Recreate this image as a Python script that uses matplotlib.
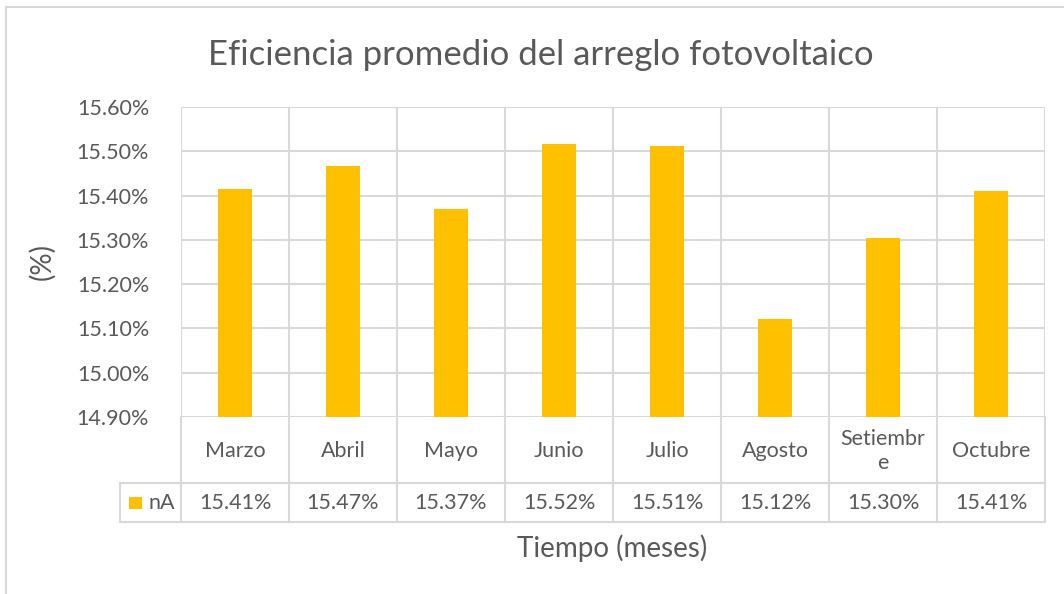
import matplotlib.pyplot as plt
from matplotlib.transforms import blended_transform_factory
from matplotlib.patches import Rectangle

plt.rcParams['font.family'] = ['Lato', 'DejaVu Sans']

# datos
meses = ["Marzo", "Abril", "Mayo", "Junio", "Julio", "Agosto", "Setiembre", "Octubre"]
etiquetas = ["Marzo", "Abril", "Mayo", "Junio", "Julio", "Agosto", "Setiembr\ne", "Octubre"]
eficiencia = [15.414, 15.466, 15.369, 15.516, 15.511, 15.122, 15.304, 15.410]
serie = "nA"
yticks = [14.9, 15.0, 15.1, 15.2, 15.3, 15.4, 15.5, 15.6]

gris = '#595959'
rejilla = '#d9d9d9'
amarillo = '#ffc000'
fs = 15.5

W, H = 1064, 594
fig = plt.figure(figsize=(W / 100, H / 100), dpi=100)

def fy(py):
    return 1 - py / H

ax = fig.add_axes([181 / W, fy(417), (1045 - 181) / W, (417 - 107) / H])
x = list(range(len(meses)))
ax.bar(x, eficiencia, width=0.31, color=amarillo, zorder=3, bottom=0)
ax.set_xlim(-0.5, len(meses) - 0.5)
ax.set_ylim(14.9, 15.6)
ax.set_yticks(yticks)
ax.set_yticklabels([f"{v:.2f}%" for v in yticks], color=gris, fontsize=fs)
ax.tick_params(axis='y', length=0, pad=23)
ax.set_xticks([])
for s in ax.spines.values():
    s.set_visible(False)
for v in yticks:
    ax.axhline(v, color=rejilla, lw=1.5, zorder=1)
for i in range(len(meses) + 1):
    ax.axvline(i - 0.5, color=rejilla, lw=1.5, zorder=1)

# tabla de datos
tr = blended_transform_factory(ax.transData, fig.transFigure)
x_leyenda = -0.5 - (181 - 120) / 108
for i in range(len(meses) + 1):
    ax.plot([i - 0.5, i - 0.5], [fy(417), fy(522)], transform=tr, color=rejilla, lw=1.5, clip_on=False)
ax.plot([x_leyenda, x_leyenda], [fy(483), fy(522)], transform=tr, color=rejilla, lw=1.5, clip_on=False)
for py in [483, 522]:
    ax.plot([x_leyenda, len(meses) - 0.5], [fy(py), fy(py)], transform=tr, color=rejilla, lw=1.5, clip_on=False)

for i, (et, v) in enumerate(zip(etiquetas, eficiencia)):
    ax.text(i, fy(451), et, transform=tr, ha='center', va='center', color=gris, fontsize=fs, linespacing=1.3)
    ax.text(i, fy(503), f"{v:.2f}%", transform=tr, ha='center', va='center', color=gris, fontsize=fs)

fig.patches.append(Rectangle((129 / W, fy(509)), 13 / W, 12 / H, transform=fig.transFigure,
                             facecolor=amarillo, edgecolor='none'))
fig.text(148 / W, fy(503), serie, ha='left', va='center', color=gris, fontsize=fs)

fig.text(541 / W, fy(55), "Eficiencia promedio del arreglo fotovoltaico", ha='center', va='center',
         color=gris, fontsize=25)
fig.text(612 / W, fy(548), "Tiempo (meses)", ha='center', va='center', color=gris, fontsize=20)
fig.text(42 / W, fy(262), "(%)", ha='center', va='center', color=gris, fontsize=20, rotation=90)

# borde del grafico
fig.patches.append(Rectangle((6 / W, -0.1), 1.2, fy(7) + 0.1, transform=fig.transFigure,
                             facecolor='none', edgecolor=rejilla, lw=1.5))

fig.savefig("out.png", dpi=100)
